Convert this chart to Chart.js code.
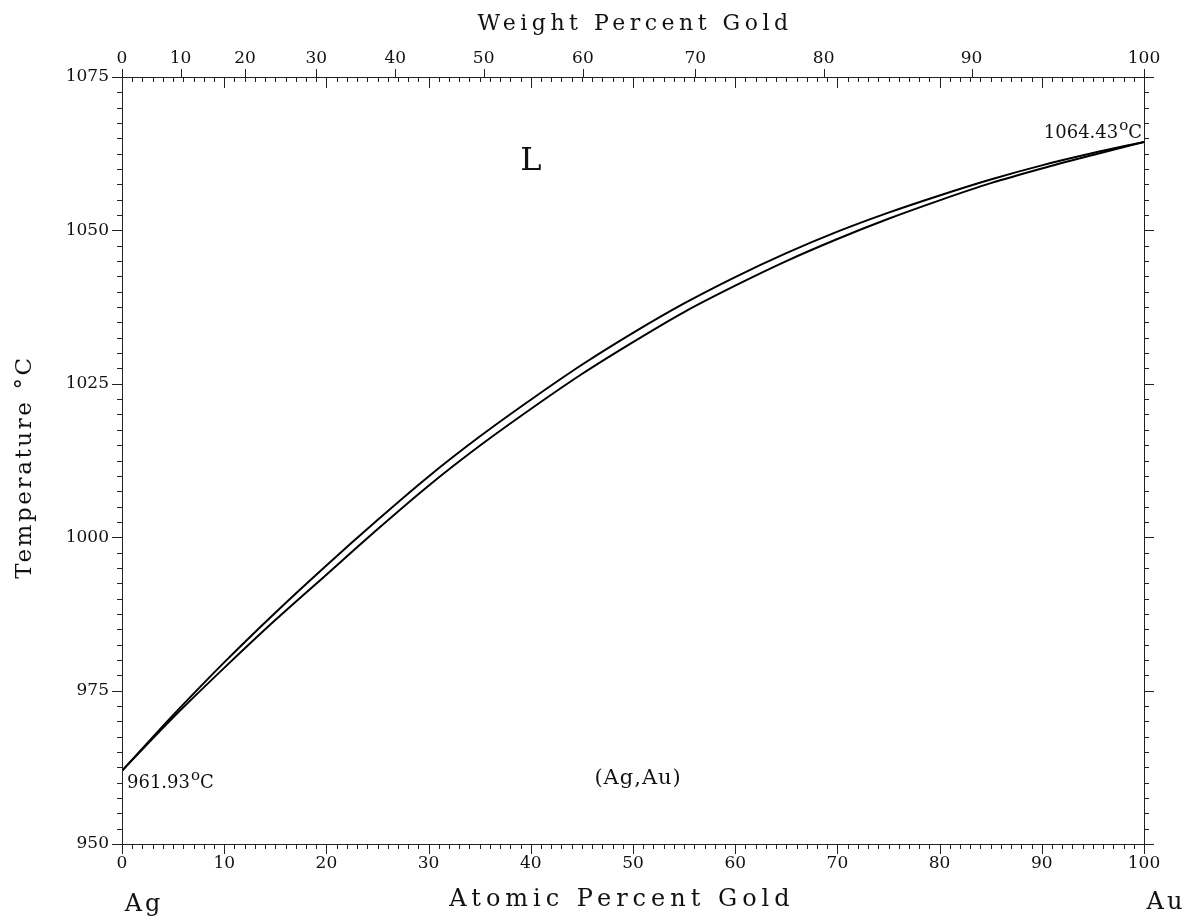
<!DOCTYPE html>
<html>
<head>
<meta charset="utf-8">
<script src="https://cdn.jsdelivr.net/npm/chart.js@4/dist/chart.umd.min.js"></script>
<style>
  html, body { margin: 0; padding: 0; background: #fff; }
  #wrap { width: 1188px; height: 918px; }
</style>
</head>
<body>
<div id="wrap"><canvas id="grafico" width="1188" height="918"></canvas></div>
<script>
// Ag-Au phase diagram - liquidus / solidus

// composicao (at.% Au) e temperaturas
const atomico = [0, 5, 10, 15, 20, 25, 30, 35, 40, 45, 50, 55, 60, 65, 70, 75, 80, 85, 90, 95, 100];
const liquidus = [961.93, 971.0, 979.6, 987.7, 995.4, 1002.8, 1009.9, 1016.4, 1022.4, 1028.1, 1033.3,
                  1038.1, 1042.4, 1046.3, 1049.8, 1052.9, 1055.7, 1058.3, 1060.6, 1062.6, 1064.43];
const solidus  = [961.93, 970.6, 978.7, 986.5, 993.9, 1001.3, 1008.4, 1014.9, 1020.9, 1026.6, 1031.8,
                  1036.7, 1041.0, 1045.0, 1048.6, 1051.9, 1054.9, 1057.7, 1060.1, 1062.3, 1064.43];

// rotulos dos eixos
const ticksTemp = [950, 975, 1000, 1025, 1050, 1075];
const ticksAtomico = [0, 10, 20, 30, 40, 50, 60, 70, 80, 90, 100];
const ticksPeso = [0, 10, 20, 30, 40, 50, 60, 70, 80, 90, 100];

const massaAu = 196.97, massaAg = 107.87;
const fonte = "'DejaVu Serif', 'Liberation Serif', serif";

// converte wt.% em at.% para posicionar o eixo de cima
function pesoParaAtomico(w) {
    if (w <= 0) return 0;
    if (w >= 100) return 100;
    const a = w / massaAu, b = (100 - w) / massaAg;
    return 100 * a / (a + b);
}

function pontos(ys) {
    return atomico.map((x, i) => ({ x: x, y: ys[i] }));
}

// escreve "valor oC" com o "o" em expoente
function textoGrau(ctx, valor, x, y) {
    ctx.font = '18px ' + fonte;
    ctx.fillText(valor, x, y);
    const w = ctx.measureText(valor).width;
    ctx.font = '15px ' + fonte;
    ctx.fillText('o', x + w + 1, y - 8);
    ctx.font = '18px ' + fonte;
    ctx.fillText('C', x + w + 10, y);
}

const eixosPlugin = {
    id: 'eixos',
    afterDraw(chart) {
        const ctx = chart.ctx;
        const xs = chart.scales.x, ys = chart.scales.y;
        const a = chart.chartArea;
        ctx.save();
        ctx.strokeStyle = '#222';
        ctx.lineWidth = 1;

        // moldura
        ctx.beginPath();
        ctx.rect(a.left + 0.5, a.top + 0.5, a.right - a.left, a.bottom - a.top);
        ctx.stroke();

        ctx.beginPath();
        // eixo x (baixo para fora, cima para dentro)
        for (let v = 0; v <= 100; v++) {
            const px = Math.round(xs.getPixelForValue(v)) + 0.5;
            const maior = v % 10 === 0;
            ctx.moveTo(px, a.bottom);
            ctx.lineTo(px, a.bottom + (maior ? 10 : 5));
            ctx.moveTo(px, a.top);
            ctx.lineTo(px, a.top + (maior ? 11 : 5));
        }
        // eixo y (ambos os lados para fora)
        for (let t = 950; t <= 1075; t += 2.5) {
            const py = Math.round(ys.getPixelForValue(t)) + 0.5;
            const maior = (t - 950) % 25 === 0;
            ctx.moveTo(a.left, py);
            ctx.lineTo(a.left - (maior ? 10 : 5), py);
            ctx.moveTo(a.right, py);
            ctx.lineTo(a.right + (maior ? 10 : 5), py);
        }
        // eixo de cima em percentagem de peso
        ticksPeso.forEach(w => {
            const px = Math.round(xs.getPixelForValue(pesoParaAtomico(w))) + 0.5;
            ctx.moveTo(px, a.top);
            ctx.lineTo(px, a.top - 8);
        });
        ctx.stroke();

        // rotulos numericos
        ctx.fillStyle = '#111';
        ctx.font = '17px ' + fonte;
        ctx.textAlign = 'center';
        ctx.textBaseline = 'alphabetic';
        ticksAtomico.forEach(v => {
            ctx.fillText(String(v), xs.getPixelForValue(v), a.bottom + 24);
        });
        ticksPeso.forEach(w => {
            ctx.fillText(String(w), xs.getPixelForValue(pesoParaAtomico(w)), a.top - 14);
        });
        ctx.textAlign = 'right';
        ctx.textBaseline = 'middle';
        ticksTemp.forEach(t => {
            ctx.fillText(String(t), a.left - 13, ys.getPixelForValue(t));
        });

        // titulos dos eixos
        ctx.textAlign = 'center';
        ctx.textBaseline = 'alphabetic';
        ctx.font = '22px ' + fonte;
        ctx.letterSpacing = '4.5px';
        ctx.fillText('Weight Percent Gold', (a.left + a.right) / 2 + 2, 30);
        ctx.font = '24px ' + fonte;
        ctx.letterSpacing = '5px';
        ctx.fillText('Atomic Percent Gold', (a.left + a.right) / 2 - 11, 906);
        ctx.letterSpacing = '3px';
        ctx.fillText('Ag', xs.getPixelForValue(0) + 22, 911);
        ctx.fillText('Au', xs.getPixelForValue(100) + 22, 909);
        ctx.save();
        ctx.font = '23px ' + fonte;
        ctx.letterSpacing = '2.6px';
        ctx.translate(31, 467);
        ctx.rotate(-Math.PI / 2);
        ctx.fillText('Temperature \u00B0C', 0, 0);
        ctx.restore();
        ctx.letterSpacing = '0px';

        // anotacoes
        ctx.font = '32px ' + fonte;
        ctx.fillText('L', xs.getPixelForValue(40), 170);
        ctx.font = '21px ' + fonte;
        ctx.letterSpacing = '1px';
        ctx.fillText('(Ag,Au)', xs.getPixelForValue(50.5), 784);
        ctx.letterSpacing = '0px';

        ctx.textAlign = 'left';
        textoGrau(ctx, '961.93', xs.getPixelForValue(0) + 5, ys.getPixelForValue(liquidus[0]) + 17);

        ctx.font = '18px ' + fonte;
        const wA = ctx.measureText('1064.43').width;
        const wC = ctx.measureText('C').width;
        textoGrau(ctx, '1064.43', a.right - 2 - wC - 10 - wA, ys.getPixelForValue(liquidus[liquidus.length - 1]) - 4);

        ctx.restore();
    }
};

new Chart(document.getElementById('grafico').getContext('2d'), {
    type: 'line',
    data: {
        datasets: [
            {
                label: 'Liquidus',
                data: pontos(liquidus),
                borderColor: '#000',
                borderWidth: 2,
                pointRadius: 0,
                cubicInterpolationMode: 'monotone',
                fill: false
            },
            {
                label: 'Solidus',
                data: pontos(solidus),
                borderColor: '#000',
                borderWidth: 2,
                pointRadius: 0,
                cubicInterpolationMode: 'monotone',
                fill: false
            }
        ]
    },
    options: {
        responsive: false,
        animation: false,
        devicePixelRatio: 1,
        layout: { padding: { left: 122, right: 44, top: 77, bottom: 74 } },
        plugins: {
            legend: { display: false },
            tooltip: { enabled: false }
        },
        scales: {
            x: { type: 'linear', min: 0, max: 100, display: false },
            y: { type: 'linear', min: 950, max: 1075, display: false }
        }
    },
    plugins: [eixosPlugin]
});
</script>
</body>
</html>
